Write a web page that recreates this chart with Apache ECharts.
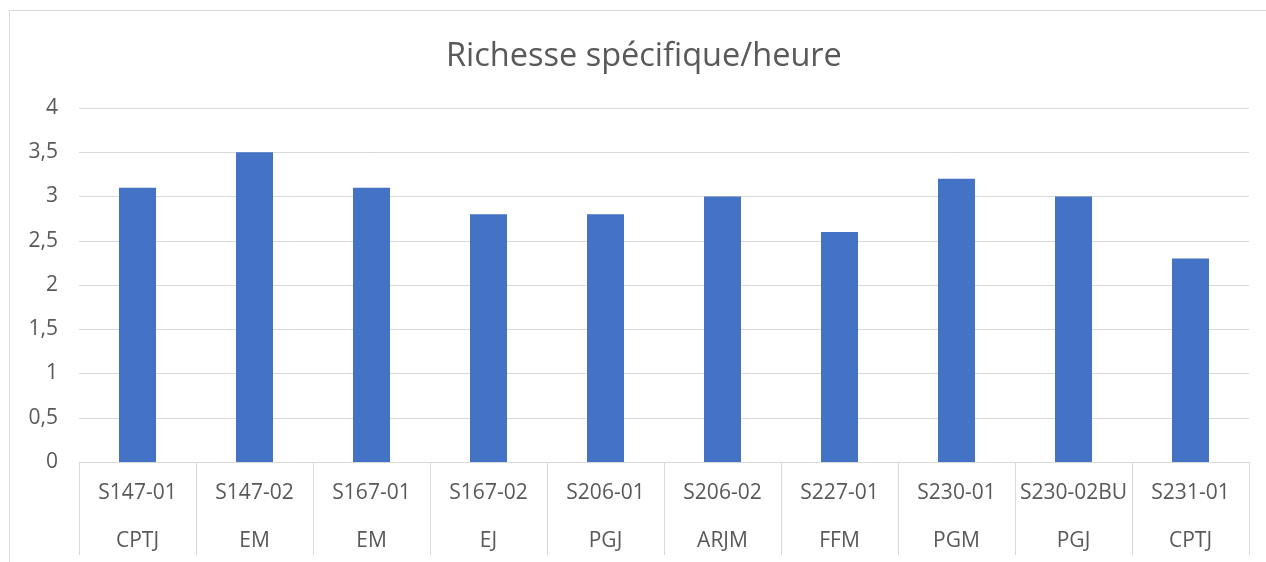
<!DOCTYPE html>
<html>
<head>
<meta charset="utf-8">
<script src="https://cdn.jsdelivr.net/npm/echarts@6/dist/echarts.min.js"></script>
<style>
  html, body { margin: 0; padding: 0; background: #fff; overflow: hidden; width: 1266px; height: 562px; }
  #frame {
    position: absolute; left: 9px; top: 10px;
    width: 1257px; height: 552px;
    border-left: 1px solid #d9d9d9; border-top: 1px solid #d9d9d9;
  }
  #chart { position: absolute; left: 0; top: 0; width: 1266px; height: 562px; }
</style>
</head>
<body>
<div id="frame"></div>
<div id="chart"></div>
<script>
const sites = ["S147-01", "S147-02", "S167-01", "S167-02", "S206-01", "S206-02", "S227-01", "S230-01", "S230-02BU", "S231-01"];
const codes = ["CPTJ", "EM", "EM", "EJ", "PGJ", "ARJM", "FFM", "PGM", "PGJ", "CPTJ"];
const richesse = [3.1, 3.5, 3.1, 2.8, 2.8, 3.0, 2.6, 3.2, 3.0, 2.3];

const labels = sites.map((s, i) => s + "\n" + codes[i]);

const chart = echarts.init(document.getElementById("chart"));
chart.setOption({
  animation: false,
  textStyle: { fontFamily: "Open Sans" },
  title: {
    text: "Richesse spécifique/heure",
    left: 441,
    top: 35,
    textStyle: { fontSize: 32.5, fontWeight: "normal", color: "#595959", fontFamily: "Open Sans" }
  },
  grid: { left: 79, right: 17, top: 108, bottom: 100, outerBoundsMode: "none", containLabel: false },
  xAxis: {
    type: "category",
    data: labels,
    axisLine: { lineStyle: { color: "#d9d9d9", width: 1 } },
    axisTick: { show: true, interval: 0, length: 93, lineStyle: { color: "#d9d9d9" } },
    axisLabel: {
      interval: 0,
      margin: 7,
      color: "#595959",
      fontSize: 21,
      lineHeight: 48
    }
  },
  yAxis: {
    type: "value",
    min: 0,
    max: 4,
    interval: 0.5,
    axisLine: { show: false },
    axisTick: { show: false },
    axisLabel: {
      color: "#595959",
      fontSize: 21,
      margin: 21,
      formatter: v => String(v).replace(".", ",")
    },
    splitLine: { lineStyle: { color: "#d9d9d9", width: 1 } }
  },
  series: [{
    type: "bar",
    data: richesse,
    barWidth: 37,
    itemStyle: { color: "#4472c4" }
  }]
});
</script>
</body>
</html>
